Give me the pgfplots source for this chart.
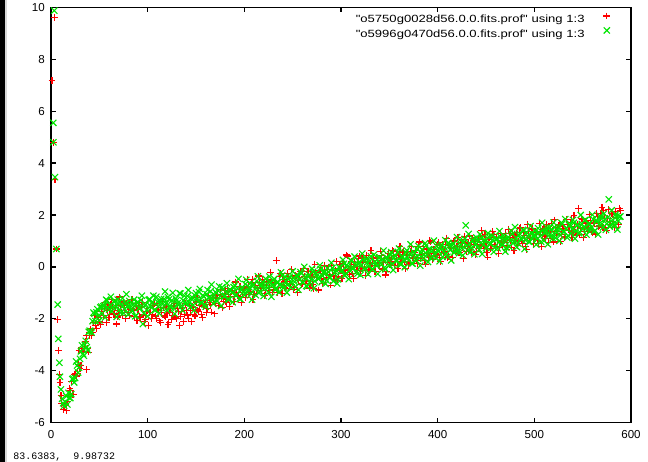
\documentclass[border=0pt]{standalone}
\usepackage{fontspec}
\setmainfont{Liberation Sans}
\newfontfamily\legfont[FakeStretch=1.25]{Liberation Sans}
\newfontfamily\monofont{Liberation Mono}
\usepackage{pgfplots}
\pgfplotsset{compat=1.18}
\definecolor{gpgreen}{RGB}{0,230,0}
\definecolor{gpred}{RGB}{255,0,0}
\begin{document}
\begin{tikzpicture}
\fill[white] (-51bp,-39.3bp) rectangle (597bp,422.7bp);
\fill[black] (-51bp,-39.3bp) rectangle (-46.3bp,422.7bp);
\fill[black!15] (-46.3bp,-39.3bp) rectangle (-43.7bp,422.7bp);
\begin{axis}[
  at={(0,0)}, anchor=south west,
  scale only axis, width=580bp, height=415.4bp,
  xmin=0, xmax=600, ymin=-6, ymax=10,
  xtick={0,100,...,600}, ytick={-6,-4,...,10},
  xticklabels={0,100,200,300,400,500,600},
  yticklabels={-6,-4,-2,0,2,4,6,8,10},
  tick align=inside, major tick length=5bp,
  axis line style={line width=1.5bp},
  tick style={line width=1.2bp, black},
  ticklabel style={font=\fontsize{11.6}{13}\selectfont, inner sep=0pt},
  xticklabel style={yshift=-8bp},
  yticklabel style={xshift=-6bp},
  legend plot pos=right,
  legend cell align=right,
  legend image code/.code={\path (0bp,0bp) (26bp,0bp); \draw[#1] plot coordinates {(22bp,3.8bp)};},
  legend style={draw=none, fill=none, inner sep=0pt, outer sep=0pt,
    font=\legfont\fontsize{10.5}{12}\selectfont,
    nodes={inner sep=0pt},
    row sep=3bp, column sep=0pt,
    at={(rel axis cs:0.96552,0.9872)}, anchor=north east},
]
\addplot[only marks, mark=+, color=gpred, mark size=3.4bp, mark options={line width=1.1bp}] coordinates {
(1,7.17) (2.5,4.8) (3.4,9.62) (4.1,3.35) (5.5,0.69) (6.9,-2.04) (7.6,-3.22) (8.6,-4.14) (9.3,-4.44) (10.3,-4.94) (11,-5.26) (12.7,-5.49) (14,-5.35) (15.5,-5.30) (16.2,-5.53) (17.5,-5.2) (18.5,-5.0) (19.6,-4.69)
(20,-4.75) (22,-4.90) (24,-4.13) (26,-4.20) (28,-3.75) (30,-3.90) (32,-3.22) (34,-3.30) (36,-2.88) (36.5,-3.95) (38,-3.13) (40,-2.64) (42,-2.65) (44,-2.15) (46,-2.25) (48,-1.91) (50,-2.12) (52,-1.71) (54,-1.87) (56,-1.45) (58,-1.68) (60,-1.95)
(62,-1.44) (64,-1.58) (66,-1.79) (68,-2.20) (70,-1.68) (72,-1.49) (74,-1.86) (76,-1.56) (78,-1.39) (80,-1.74) (82,-1.62) (84,-1.25) (86,-1.91) (88,-1.52)
(90,-1.63) (92,-1.92) (94,-1.53) (96,-1.85) (98,-2.04) (100,-1.70) (102,-1.77) (104,-1.98) (106,-1.48) (108,-1.89) (110,-1.66) (112,-2.08) (114,-1.74) (116,-1.58) (118,-1.93) (120,-1.79) (122,-2.15) (124,-1.61) (126,-1.86) (128,-1.40) (130,-2.00) (132,-1.72) (134,-1.91) (136,-1.55) (138,-1.82)
(140,-1.68) (142,-2.00) (144,-1.67) (146,-1.53) (148,-1.83) (150,-1.35) (152,-1.66) (154,-1.48) (156,-1.83) (158,-1.51) (160,-1.30) (162,-1.59) (164,-1.36) (166,-1.74) (168,-1.23) (170,-1.41) (172,-1.08) (174,-1.47) (176,-1.21) (178,-1.33) (180,-0.92) (182,-1.38) (184,-1.05) (186,-1.13) (188,-0.92) (190,-1.34) (192,-0.99) (194,-1.13) (196,-0.75) (198,-1.00)
(200,-0.76) (202,-1.07) (204,-0.80) (206,-0.95) (208,-0.49) (210,-1.07) (212,-0.71) (214,-0.81) (216,-0.59) (218,-0.90) (220,-0.72) (222,-1.03) (224,-0.49) (226,-0.78) (228,-0.54) (230,-0.86) (232,-0.60) (234,-1.00) (236,-0.36) (238,-0.66) (240,-0.50) (242,-0.81) (244,-0.56) (246,-0.37) (248,-0.67) (250,-0.46) (252,-0.80) (254,-0.35) (256,-0.53) (258,-0.16) (260,-0.63) (262,-0.37) (264,-0.53) (266,-0.18) (268,-0.65) (270,-0.36) (272,-0.83) (274,-0.23) (276,-0.42) (278,-0.13) (280,-0.46) (282,-0.26) (284,-0.50) (286,-0.11) (288,-0.28) (290,0.04) (292,-0.35) (294,-0.14) (296,-0.51) (298,-0.07)
(300,-0.14) (302,0.14) (304,-0.21) (306,0.46) (308,-0.11) (310,0.03) (312,-0.27) (314,0.17) (316,0.00) (318,0.31) (320,-0.14) (322,0.16) (324,-0.03) (326,0.43) (328,-0.12) (330,0.14) (332,0.06) (334,0.34) (336,-0.18) (338,0.26) (340,0.06) (342,0.43) (344,0.18) (346,-0.31) (348,0.37) (350,0.08) (352,0.32) (354,0.58) (356,0.21) (358,0.06) (360,0.47) (362,0.33) (364,0.57) (366,0.22) (368,0.46) (370,0.10) (372,0.59) (374,0.37) (376,0.54) (378,0.25) (380,0.78) (382,0.36) (384,0.53) (386,0.24) (388,0.69) (390,0.51) (392,1.01) (394,0.40) (396,0.67) (398,0.50)
(400,0.86) (402,0.37) (404,0.70) (406,0.57) (408,0.87) (410,0.36) (412,0.82) (414,0.71) (416,1.00) (418,0.60) (420,0.79) (422,0.56) (424,0.95) (426,0.74) (428,1.16) (430,0.59) (432,0.92) (434,0.74) (436,1.08) (438,0.86) (440,0.61) (442,1.05) (444,0.85) (446,1.19) (448,0.79) (450,0.96) (452,0.38) (454,1.13) (456,0.85) (458,1.26)
(460,0.80) (462,1.02) (464,0.74) (466,1.14) (468,0.96) (470,1.29) (472,0.83) (474,1.13) (476,0.74) (478,1.20) (480,1.01) (482,1.31) (484,0.99) (486,1.52) (488,0.89) (490,1.20) (492,0.68) (494,1.35) (496,1.10) (498,1.47)
(500,1.06) (502,1.25) (504,0.90) (506,1.37) (508,1.23) (510,1.49) (512,1.08) (514,1.40) (516,1.20) (518,1.66) (520,0.96) (522,1.51) (524,1.37) (526,1.63) (528,1.24) (530,1.49) (532,1.17) (534,1.65) (536,1.39) (538,1.84) (540,1.35) (542,1.55) (544,1.23) (546,2.25) (548,1.50) (550,1.83) (552,1.37) (554,1.69) (556,1.50) (558,1.80) (560,1.31) (562,1.68) (564,2.05) (566,1.54) (568,1.90) (570,2.30) (572,2.17) (574,1.50) (576,1.85) (578,1.75) (580,2.05) (582,1.62) (584,2.14) (586,1.90) (588,2.24)
(21,-4.40) (23,-4.92) (25,-4.12) (27,-4.10) (29,-3.23) (31,-3.80) (33,-3.15) (35,-3.15) (37,-2.64) (39,-3.28) (41,-2.39) (43,-2.54) (45,-1.88) (47,-2.37) (49,-1.96) (51,-2.23) (53,-1.47) (55,-1.61) (57,-2.13) (59,-1.43)
(61,-1.68) (63,-1.24) (65,-1.82) (67,-1.55) (69,-1.93) (71,-1.16) (73,-1.75) (75,-1.35) (77,-2.00) (79,-1.48) (81,-1.88) (83,-1.27) (85,-1.66) (87,-1.42) (89,-2.07) (91,-1.51) (93,-1.94) (95,-1.38) (97,-2.11) (99,-1.73)
(101,-2.26) (103,-1.57) (105,-1.82) (107,-1.42) (109,-2.00) (111,-1.66) (113,-2.15) (115,-1.32) (117,-1.89) (119,-1.54) (121,-2.21) (123,-1.76) (125,-2.04) (127,-1.47) (129,-1.93) (131,-1.60) (133,-2.27) (135,-1.70) (137,-2.09) (139,-1.41)
(141,-1.85) (143,-1.49) (145,-2.09) (147,-1.55) (149,-1.89) (151,-1.19) (153,-1.72) (155,-1.28) (157,-1.95) (159,-1.44) (161,-1.76) (163,-1.09) (165,-1.46) (167,-1.18) (169,-1.81) (171,-1.21) (173,-1.50) (175,-0.87) (177,-1.57) (179,-1.16) (181,-1.33) (183,-0.82) (185,-1.51) (187,-0.93) (189,-1.32) (191,-0.58) (193,-1.10) (195,-0.74) (197,-1.38) (199,-0.81)
(201,-1.17) (203,-0.47) (205,-0.97) (207,-0.62) (209,-1.27) (211,-0.73) (213,-1.02) (215,-0.35) (217,-0.81) (219,-0.47) (221,-1.10) (223,-0.58) (225,-0.91) (227,-0.20) (229,-0.99) (231,-0.63) (233,0.25) (235,-0.80) (237,-0.26) (239,-1.03) (241,-0.49) (243,-0.84) (245,-0.26) (247,-0.63) (249,-0.10) (251,-0.87) (253,-0.33) (255,-0.97) (257,-0.42) (259,-0.68) (261,-0.07) (263,-0.57) (265,-0.18) (267,-0.81) (269,-0.28) (271,-0.66) (273,0.10) (275,-0.40) (277,-0.89) (279,-0.13) (281,-0.64) (283,0.05) (285,-0.39) (287,0.00) (289,-0.70) (291,-0.15) (293,-0.47) (295,0.20) (297,-0.37) (299,0.11)
(301,-0.46) (303,0.10) (305,-0.12) (307,0.42) (309,-0.30) (311,0.22) (313,-0.45) (315,0.08) (317,-0.15) (319,0.42) (321,-0.05) (323,0.37) (325,-0.32) (327,0.21) (329,-0.14) (331,0.62) (333,0.12) (335,-0.19) (337,0.37) (339,0.04) (341,0.61) (343,-0.08) (345,0.31) (347,-0.18) (349,0.51) (351,0.19) (353,0.63) (355,0.07) (357,0.44) (359,-0.05) (361,0.79) (363,0.19) (365,0.59) (367,-0.07) (369,0.43) (371,0.15) (373,0.79) (375,0.34) (377,0.64) (379,0.13) (381,0.96) (383,0.44) (385,0.78) (387,0.11) (389,0.67) (391,0.35) (393,0.96) (395,0.27) (397,0.68) (399,0.46)
(401,0.94) (403,0.20) (405,0.86) (407,0.59) (409,1.11) (411,0.41) (413,0.76) (415,0.36) (417,1.01) (419,0.63) (421,1.15) (423,0.55) (425,0.90) (427,0.33) (429,1.04) (431,0.79) (433,1.19) (435,0.56) (437,1.03) (439,0.49) (441,0.97) (443,0.72) (445,1.39) (447,0.81) (449,1.24) (451,0.57) (453,1.05) (455,0.70) (457,1.36) (459,0.88)
(461,1.14) (463,0.53) (465,1.28) (467,0.83) (469,1.07) (471,0.68) (473,1.45) (475,1.03) (477,1.30) (479,0.62) (481,1.23) (483,0.83) (485,1.47) (487,1.02) (489,1.34) (491,0.77) (493,1.63) (495,1.12) (497,1.46) (499,0.89)
(501,1.33) (503,1.02) (505,1.67) (507,0.80) (509,1.44) (511,1.17) (513,1.64) (515,0.95) (517,1.38) (519,1.10) (521,1.81) (523,1.28) (525,1.61) (527,0.99) (529,1.55) (531,1.15) (533,1.82) (535,1.42) (537,1.71) (539,1.13) (541,1.99) (543,1.34) (545,1.63) (547,1.24) (549,1.86) (551,1.14) (553,1.76) (555,1.49) (557,2.02) (559,1.37) (561,1.70) (563,1.27) (565,1.95) (567,1.61) (569,2.06) (571,1.51) (573,1.85) (575,1.40) (577,2.20) (579,1.62) (581,2.03) (583,1.52) (585,1.89) (587,1.64) (589,2.16)
};
\addlegendentry{"o5750g0028d56.0.0.fits.prof" using 1:3}
\addplot[only marks, mark=x, color=gpgreen, mark size=4.4bp, mark options={line width=1.1bp}] coordinates {
(2.4,5.55) (2.5,4.8) (3.4,9.87) (4.1,3.46) (5.5,0.69) (6.9,-1.45) (7.6,-2.77) (8.6,-3.69) (9.3,-4.23) (10.3,-4.72) (11.5,-5.08) (12.5,-5.25) (13.5,-5.35) (14.5,-5.20) (16,-4.98) (17,-5.30) (18,-4.85) (19,-5.05)
(21,-4.90) (23,-4.30) (25,-4.28) (27,-3.80) (29,-3.88) (31,-3.25) (33,-3.35) (35,-3.00) (37,-3.10) (39,-2.50) (41,-2.47) (43,-2.09) (45,-1.80) (47,-1.75) (49,-1.88) (51,-1.56) (53,-1.79) (55,-1.49) (57,-1.26) (59,-1.57)
(61,-1.47) (63,-1.71) (65,-1.34) (67,-1.55) (69,-1.26) (71,-1.64) (73,-1.43) (75,-1.77) (77,-1.39) (79,-1.52) (81,-1.31) (83,-1.62) (85,-1.45) (87,-1.90) (89,-1.37) (91,-1.58) (93,-1.28) (95,-2.20) (97,-1.48) (99,-1.66)
(101,-1.27) (103,-1.51) (105,-1.35) (107,-1.66) (109,-1.15) (111,-1.52) (113,-1.36) (115,-1.58) (117,-1.24) (119,-1.41) (121,-1.16) (123,-1.50) (125,-1.29) (127,-1.59) (129,-1.22) (131,-1.40) (133,-1.02) (135,-1.49) (137,-1.30) (139,-1.42)
(141,-1.12) (143,-1.37) (145,-1.22) (147,-1.47) (149,-1.11) (151,-1.23) (153,-0.97) (155,-1.36) (157,-1.10) (159,-1.45) (161,-1.05) (163,-1.18) (165,-0.94) (167,-1.24) (169,-1.08) (171,-1.28) (173,-0.92) (175,-1.13) (177,-0.78) (179,-1.14) (181,-0.95) (183,-1.24) (185,-0.87) (187,-0.99) (189,-0.78) (191,-1.09) (193,-0.84) (195,-1.23) (197,-0.86) (199,-0.97)
(201,-0.66) (203,-0.98) (205,-0.78) (207,-1.02) (209,-0.68) (211,-0.85) (213,-0.54) (215,-1.00) (217,-0.75) (219,-0.59) (221,-0.83) (223,-0.64) (225,-0.98) (227,-0.57) (229,-0.71) (231,-0.46) (233,-0.81) (235,-0.59) (237,-0.71) (239,-0.33) (241,-0.79) (243,-0.55) (245,-0.70) (247,-0.38) (249,-0.60) (251,-0.42) (253,-0.76) (255,-0.36) (257,-0.49) (259,-0.25) (261,-0.60) (263,-0.38) (265,-0.75) (267,-0.30) (269,-0.47) (271,-0.19) (273,-0.55) (275,-0.34) (277,-0.45) (279,-0.08) (281,-0.35) (283,-0.17) (285,-0.52) (287,-0.20) (289,-0.40) (291,-0.04) (293,-0.25) (295,-0.13) (297,-0.48) (299,-0.04)
(301,-0.15) (303,0.12) (305,-0.26) (307,0.02) (309,-0.14) (311,0.24) (313,-0.04) (315,0.13) (317,-0.26) (319,0.19) (321,0.05) (323,0.29) (325,-0.08) (327,0.17) (329,0.03) (331,0.41) (333,-0.08) (335,0.20) (337,0.04) (339,0.35) (341,0.15) (343,0.31) (345,-0.03) (347,0.37) (349,0.25) (351,0.48) (353,0.11) (355,0.36) (357,0.22) (359,0.58) (361,0.13) (363,0.38) (365,0.25) (367,0.56) (369,0.35) (371,0.51) (373,0.14) (375,0.58) (377,0.38) (379,0.68) (381,0.34) (383,0.54) (385,0.32) (387,0.91) (389,0.47) (391,0.68) (393,0.33) (395,0.65) (397,0.49) (399,0.80)
(401,0.60) (403,0.78) (405,0.39) (407,0.75) (409,0.52) (411,0.93) (413,0.65) (415,0.83) (417,0.55) (419,0.77) (421,0.65) (423,1.04) (425,0.72) (427,0.96) (429,1.60) (431,0.63) (433,0.90) (435,0.73) (437,1.08) (439,0.85) (441,1.02) (443,0.67) (445,1.10) (447,0.86) (449,0.99) (451,0.76) (453,1.16) (455,0.89) (457,1.05) (459,0.74)
(461,1.09) (463,0.94) (465,1.16) (467,0.84) (469,1.07) (471,0.74) (473,1.15) (475,1.00) (477,1.27) (479,0.97) (481,1.13) (483,0.91) (485,1.27) (487,1.06) (489,1.40) (491,1.03) (493,1.19) (495,0.97) (497,1.30) (499,1.17)
(501,1.40) (503,1.08) (505,1.32) (507,0.97) (509,1.41) (511,1.29) (513,1.51) (515,1.21) (517,1.42) (519,1.11) (521,1.52) (523,1.32) (525,1.51) (527,1.22) (529,1.66) (531,1.35) (533,1.48) (535,1.20) (537,1.62) (539,1.46) (541,1.70) (543,1.37) (545,1.61) (547,1.34) (549,1.66) (551,1.53) (553,1.81) (555,1.44) (557,1.67) (559,1.52) (561,1.83) (563,1.40) (565,1.76) (567,1.65) (569,1.86) (571,1.52) (573,1.85) (575,1.66) (577,2.60) (579,1.63) (581,1.82) (583,1.58) (585,1.94) (587,1.77) (589,1.94)
(20,-5.05) (22,-4.32) (24,-4.45) (26,-3.64) (28,-4.07) (30,-3.54) (32,-3.02) (34,-3.42) (36,-2.85) (38,-3.20) (40,-2.46) (42,-2.53) (44,-1.76) (46,-2.09) (48,-1.63) (50,-2.06) (52,-1.53) (54,-1.52) (56,-1.95) (58,-1.29) (60,-1.64)
(62,-1.15) (64,-1.55) (66,-1.32) (68,-1.92) (70,-1.40) (72,-1.76) (74,-1.20) (76,-1.62) (78,-1.05) (80,-1.83) (82,-1.48) (84,-1.69) (86,-1.26) (88,-1.88) (90,-1.36) (92,-1.58) (94,-1.11) (96,-1.79) (98,-1.45)
(100,-1.90) (102,-1.25) (104,-1.57) (106,-1.11) (108,-1.66) (110,-1.34) (112,-1.79) (114,-1.23) (116,-1.41) (118,-0.95) (120,-1.67) (122,-1.25) (124,-1.56) (126,-1.00) (128,-1.81) (130,-1.28) (132,-1.47) (134,-1.03) (136,-1.67) (138,-1.11) (140,-1.37)
(142,-0.89) (144,-1.55) (146,-1.17) (148,-1.67) (150,-1.01) (152,-1.33) (154,-0.85) (156,-1.39) (158,-1.14) (160,-1.53) (162,-0.89) (164,-1.19) (166,-0.68) (168,-1.42) (170,-0.97) (172,-1.32) (174,-0.75) (176,-1.50) (178,-0.86) (180,-1.11) (182,-0.63) (184,-1.26) (186,-0.92) (188,-1.36) (190,-0.71) (192,-1.08) (194,-0.46) (196,-1.24) (198,-0.79)
(200,-1.09) (202,-0.50) (204,-0.89) (206,-0.64) (208,-1.26) (210,-0.68) (212,-1.09) (214,-0.36) (216,-0.93) (218,-0.67) (220,-1.12) (222,-0.46) (224,-0.81) (226,-0.37) (228,-1.15) (230,-0.52) (232,-0.88) (234,-0.59) (236,-0.98) (238,-0.21) (240,-0.73) (242,-0.38) (244,-0.99) (246,-0.47) (248,-0.79) (250,-0.17) (252,-0.58) (254,-0.32) (256,-0.88) (258,-0.20) (260,-0.58) (262,0.00) (264,-0.73) (266,-0.38) (268,-0.60) (270,-0.07) (272,-0.82) (274,-0.22) (276,-0.43) (278,0.06) (280,-0.59) (282,-0.24) (284,-0.65) (286,-0.05) (288,-0.41) (290,0.16) (292,-0.55) (294,-0.20) (296,-0.64) (298,0.00)
(300,-0.18) (302,0.27) (304,-0.34) (306,0.07) (308,-0.47) (310,0.25) (312,-0.07) (314,0.40) (316,-0.18) (318,0.10) (320,-0.31) (322,0.51) (324,-0.05) (326,0.30) (328,-0.28) (330,0.22) (332,-0.10) (334,0.47) (336,0.14) (338,-0.27) (340,0.37) (342,0.09) (344,0.63) (346,-0.09) (348,0.32) (350,0.07) (352,0.57) (354,-0.12) (356,0.44) (358,0.25) (360,0.71) (362,0.09) (364,0.39) (366,-0.01) (368,0.64) (370,0.26) (372,0.87) (374,0.13) (376,0.53) (378,0.25) (380,0.81) (382,0.05) (384,0.67) (386,0.47) (388,0.82) (390,0.19) (392,0.66) (394,0.40) (396,1.01) (398,0.34)
(400,0.66) (402,0.22) (404,0.86) (406,0.57) (408,1.03) (410,0.39) (412,0.82) (414,0.25) (416,0.91) (418,0.62) (420,1.15) (422,0.53) (424,0.86) (426,0.45) (428,1.08) (430,0.81) (432,1.27) (434,0.58) (436,1.01) (438,0.49) (440,1.13) (442,0.80) (444,1.25) (446,0.50) (448,1.05) (450,0.73) (452,1.30) (454,0.88) (456,1.20) (458,0.58)
(460,1.07) (462,0.72) (464,1.38) (466,0.88) (468,1.20) (470,0.59) (472,1.08) (474,0.78) (476,1.39) (478,0.92) (480,1.53) (482,0.76) (484,1.22) (486,1.08) (488,1.43) (490,0.69) (492,1.33) (494,0.97) (496,1.57) (498,1.09)
(500,1.25) (502,0.86) (504,1.49) (506,1.18) (508,1.70) (510,1.00) (512,1.40) (514,0.87) (516,1.52) (518,1.21) (520,1.71) (522,1.12) (524,1.44) (526,1.00) (528,1.70) (530,1.36) (532,1.84) (534,1.13) (536,1.61) (538,1.30) (540,1.81) (542,1.09) (544,1.61) (546,1.30) (548,2.00) (550,1.46) (552,1.80) (554,1.24) (556,1.66) (558,1.43) (560,2.01) (562,1.37) (564,1.79) (566,1.25) (568,1.96) (570,1.66) (572,2.05) (574,1.43) (576,1.91) (578,1.55) (580,2.18) (582,1.67) (584,2.02) (586,1.44) (588,1.93)
};
\addlegendentry{"o5996g0470d56.0.0.fits.prof" using 1:3}
\end{axis}
\node[anchor=base west, inner sep=0pt, font=\monofont\fontsize{10}{12}\selectfont] at (-37.7bp,-37bp) {83.6383,\ \ 9.98732};
\pgfresetboundingbox
\path[use as bounding box] (-51bp,-39.3bp) rectangle (597bp,422.7bp);
\end{tikzpicture}
\end{document}
